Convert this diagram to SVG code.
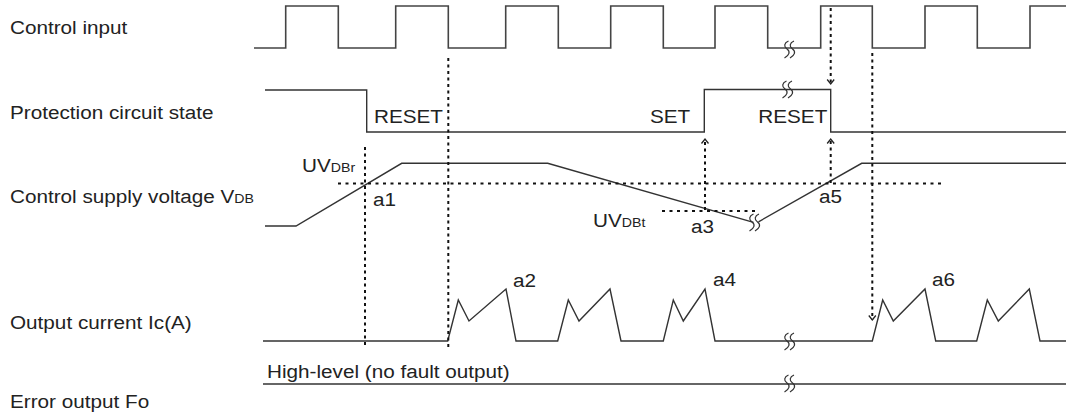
<svg xmlns="http://www.w3.org/2000/svg" xmlns:xlink="http://www.w3.org/1999/xlink" width="1066" height="414" viewBox="0 0 1066 414">
<style>
text{font-family:"Liberation Sans",Arial,sans-serif;font-size:19px;fill:#222}
.sub{font-size:13px}
.sig{fill:none;stroke:#333;stroke-width:1.4;stroke-linejoin:miter}
.dot{fill:none;stroke:#111;stroke-width:2;stroke-dasharray:3 3.5}
.dh{fill:none;stroke:#111;stroke-width:2;stroke-dasharray:3 4.5}
.brk{fill:none;stroke:#333;stroke-width:1.2}
</style>
<defs>
<marker id="ah" markerWidth="10" markerHeight="10" refX="6" refY="5" orient="auto" markerUnits="userSpaceOnUse" viewBox="0 0 10 10">
<path d="M1.5,1.5 L6,5 L1.5,8.5" fill="none" stroke="#222" stroke-width="1.3"/>
</marker>
<g id="brkmark">
<path class="brk" d="M1.5,-9 C-3,-7 -3.5,-3.5 0,-1 C3.5,1.5 2.5,5 -2.5,8"/>
<path class="brk" d="M7,-9 C2.5,-7 2,-3.5 5.5,-1 C9,1.5 8,5 3,8"/>
</g>
</defs>

<g id="labels">
<text transform="matrix(1.09 0 0 1 10 34)">Control input</text>
<text transform="matrix(1.09 0 0 1 10 118.5)">Protection circuit state</text>
<text transform="matrix(1.09 0 0 1 10 202.5)">Control supply voltage V<tspan class="sub">DB</tspan></text>
<text transform="matrix(1.09 0 0 1 10 329)">Output current Ic(A)</text>
<text transform="matrix(1.09 0 0 1 10 407.5)">Error output Fo</text>
</g>

<g id="control-input">
<path class="sig" style="stroke:#444;stroke-width:1.6" d="M254,48 H285.7 V6 H338.3 V48 H395.7 V6 H448.3 V48 H505.7 V6 H558.3 V48 H610.7 V6 H663.3 V48 H715 V6 H767.7 V48 H820.7 V6 H872.3 V48 H925 V6 H977.3 V48 H1030 V6 H1066"/>
<use xlink:href="#brkmark" x="787" y="50"/>
</g>

<g id="protection-state">
<path class="sig" d="M265,90 H366.7 V132 H704.3 V89.5 H830.7 V132 H1066"/>
<use xlink:href="#brkmark" x="785" y="90"/>
<text transform="matrix(1.09 0 0 1 374 123)">RESET</text>
<text transform="matrix(1.09 0 0 1 650 123)">SET</text>
<text transform="matrix(1.09 0 0 1 758.3 123)">RESET</text>
</g>

<g id="supply-voltage">
<path class="sig" d="M265,226 H296 L401.7,163.3 H547.7 L753.5,222.3"/>
<path class="sig" d="M758.5,221.8 L861.7,163.3 H1066"/>
<use xlink:href="#brkmark" x="752" y="223"/>
<text transform="matrix(1.09 0 0 1 302 171.5)">UV<tspan class="sub">DBr</tspan></text>
<text transform="matrix(1.09 0 0 1 593 227)">UV<tspan class="sub">DBt</tspan></text>
<text transform="matrix(1.09 0 0 1 373 206)">a1</text>
<text transform="matrix(1.09 0 0 1 691 232.5)">a3</text>
<text transform="matrix(1.09 0 0 1 819 202.5)">a5</text>
</g>

<g id="output-current">
<path class="sig" d="M263,341 H447.7 L458.3,300 L469,321 L506,289 L516,341 H557.7 L568.3,300 L579,321 L610,289 L621,341 H663.3 L673.3,300 L683.3,321 L705,289 L715,341 H872.3 L882.7,300 L893.3,321 L925,289 L935.7,341 H976.7 L987.3,300 L998.3,321 L1029.3,289 L1040,341 H1066"/>
<use xlink:href="#brkmark" x="787" y="342"/>
<text transform="matrix(1.09 0 0 1 513 286.5)">a2</text>
<text transform="matrix(1.09 0 0 1 713 286)">a4</text>
<text transform="matrix(1.09 0 0 1 932 286)">a6</text>
</g>

<g id="error-output">
<path class="sig" d="M263,384 H1066"/>
<use xlink:href="#brkmark" x="787" y="384"/>
<text transform="matrix(1.09 0 0 1 267 378)">High-level (no fault output)</text>
</g>

<g id="connectors">
<line class="dh" x1="338" y1="183.5" x2="944" y2="183.5"/>
<line class="dh" x1="662" y1="211" x2="757" y2="211"/>
<line class="dot" x1="365" y1="147" x2="365" y2="345"/>
<line class="dot" x1="448.3" y1="58" x2="448.3" y2="347"/>
<line class="dot" x1="705" y1="210" x2="705" y2="139" marker-end="url(#ah)"/>
<line class="dot" x1="830.7" y1="183" x2="830.7" y2="139" marker-end="url(#ah)"/>
<line class="dot" x1="830.7" y1="8" x2="830.7" y2="84" marker-end="url(#ah)"/>
<line class="dot" x1="872.3" y1="53" x2="872.3" y2="320" marker-end="url(#ah)"/>
</g>
</svg>
